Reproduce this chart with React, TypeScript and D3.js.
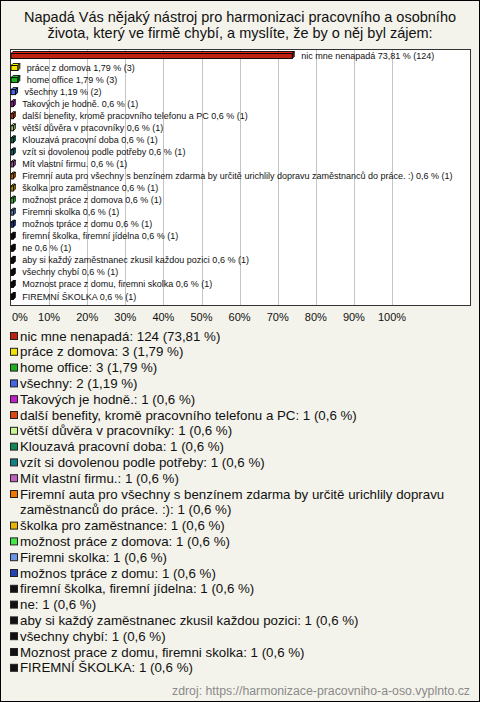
import React, { useEffect, useRef } from "react";
import * as d3 from "d3";

const categories = [
  "nic mne nenapadá",
  "práce z domova",
  "home office",
  "všechny",
  "Takových je hodně.",
  "další benefity, kromě pracovního telefonu a PC",
  "větší důvěra v pracovníky",
  "Klouzavá pracovní doba",
  "vzít si dovolenou podle potřeby",
  "Mít vlastní firmu.",
  "Firemní auta pro všechny s benzínem zdarma by určitě urichlily dopravu zaměstnanců do práce. :)",
  "školka pro zaměstnance",
  "možnost práce z domova",
  "Firemni skolka",
  "možnos tpráce z domu",
  "firemní školka, firemní jídelna",
  "ne",
  "aby si každý zaměstnanec zkusil každou pozici",
  "všechny chybí",
  "Moznost prace z domu, firemni skolka",
  "FIREMNÍ ŠKOLKA",
];
const counts = [124, 3, 3, 2, 1, 1, 1, 1, 1, 1, 1, 1, 1, 1, 1, 1, 1, 1, 1, 1, 1];
const percents = [73.81, 1.79, 1.79, 1.19, 0.6, 0.6, 0.6, 0.6, 0.6, 0.6, 0.6, 0.6, 0.6, 0.6, 0.6, 0.6, 0.6, 0.6, 0.6, 0.6, 0.6];
const colors = [
  "#c0200f", "#f2e200", "#1fb01f", "#4466e6", "#c020c8", "#e04412", "#c8f590",
  "#13875a", "#118088", "#c060c0", "#f07800", "#e8b400", "#44e844", "#6a98e8",
  "#2244b0", "#111111", "#111111", "#111111", "#111111", "#111111", "#111111",
];
const xTicks = [0, 10, 20, 30, 40, 50, 60, 70, 80, 90, 100];
const title = [
  "Napadá Vás nějaký nástroj pro harmonizaci pracovního a osobního",
  "života, který ve firmě chybí, a myslíte, že by o něj byl zájem:",
];
const source = "zdroj: https://harmonizace-pracovniho-a-oso.vyplnto.cz";

const W = 480;
const H = 702;
const FONT = "'Liberation Sans', Arial, sans-serif";

const fmt = (v: number) => String(v).replace(".", ",");

export default function App() {
  const ref = useRef<SVGSVGElement | null>(null);

  useEffect(() => {
    const svg = d3.select(ref.current);
    svg.selectAll("*").remove();

    svg.append("rect").attr("x", 0.5).attr("y", 0.5).attr("width", W - 1).attr("height", H - 1)
      .attr("fill", "#f4f3eb").attr("stroke", "#000");

    const t = svg.append("text").attr("font-family", FONT).attr("font-size", 14.5)
      .attr("text-anchor", "middle").attr("fill", "#111");
    title.forEach((line, i) =>
      t.append("tspan").attr("x", W / 2).attr("y", 22 + i * 16).text(line)
    );

    const plotL = 10.5, plotR = 470.5, plotT = 49.5, plotB = 305.5;
    const x = d3.scaleLinear().domain([0, 100]).range([11, 392]);
    const y = d3.scalePoint<string>().domain(categories).range([55.5, 296.5]);

    svg.append("rect").attr("x", plotL).attr("y", plotT).attr("width", plotR - plotL)
      .attr("height", plotB - plotT).attr("fill", "#fff").attr("stroke", "#333");

    svg.append("g").selectAll("line").data(xTicks.filter((d) => d > 0)).join("line")
      .attr("x1", (d) => Math.round(x(d)) + 0.5).attr("x2", (d) => Math.round(x(d)) + 0.5)
      .attr("y1", plotT + 0.5).attr("y2", plotB - 0.5)
      .attr("stroke", "#c4c4c4");

    svg.append("g").selectAll("text").data(xTicks).join("text")
      .attr("x", (d) => (d === 0 ? 12 : x(d)))
      .attr("y", 321)
      .attr("text-anchor", (d) => (d === 0 ? "start" : "middle"))
      .attr("font-family", FONT).attr("font-size", 11).attr("fill", "#111")
      .text((d) => d + "%");

    const bars = svg.append("g");
    categories.forEach((c, i) => {
      const cy = y(c) as number;
      const x0 = x(0);
      const w = Math.max(x(percents[i]) - x(0), 1.5);
      const col = colors[i];
      const light = d3.color(col)!.brighter(0.6).formatHex();
      const dark = d3.color(col)!.darker(0.8).formatHex();
      const g = bars.append("g");
      g.append("path")
        .attr("d", `M${x0},${cy - 2} L${x0 + 2},${cy - 4} L${x0 + w + 2},${cy - 4} L${x0 + w},${cy - 2} Z`)
        .attr("fill", light).attr("stroke", "#000").attr("stroke-width", 0.9);
      g.append("path")
        .attr("d", `M${x0 + w},${cy - 2} L${x0 + w + 2},${cy - 4} L${x0 + w + 2},${cy + 1} L${x0 + w},${cy + 3} Z`)
        .attr("fill", dark).attr("stroke", "#000").attr("stroke-width", 0.9);
      g.append("rect").attr("x", x0).attr("y", cy - 2).attr("width", w).attr("height", 5)
        .attr("fill", col).attr("stroke", "#000").attr("stroke-width", 0.9);
      g.append("text")
        .attr("x", x0 + w + 9).attr("y", cy + 3)
        .attr("font-family", FONT).attr("font-size", 9).attr("fill", "#111")
        .text(`${c} ${fmt(percents[i])} % (${counts[i]})`);
    });

    const leg = svg.append("g");
    const legX = 20, maxW = 452, step = 15.8;
    let line = 0;
    categories.forEach((c, i) => {
      const cy = 336 + line * step;
      leg.append("rect").attr("x", 10.5).attr("y", cy - 3.5).attr("width", 7).attr("height", 7)
        .attr("fill", colors[i]).attr("stroke", "#222");
      const full = `${c}: ${counts[i]} (${fmt(percents[i])} %)`;
      const txt = leg.append("text").attr("font-family", FONT).attr("font-size", 13.3)
        .attr("fill", "#111");
      const words = full.split(" ");
      let cur: string[] = [];
      let ts = txt.append("tspan").attr("x", legX).attr("y", cy + 4.5);
      words.forEach((wd) => {
        cur.push(wd);
        ts.text(cur.join(" "));
        if ((ts.node() as SVGTSpanElement).getComputedTextLength() > maxW && cur.length > 1) {
          cur.pop();
          ts.text(cur.join(" "));
          line += 1;
          cur = [wd];
          ts = txt.append("tspan").attr("x", legX).attr("y", 336 + line * step + 4.5).text(wd);
        }
      });
      line += 1;
    });

    svg.append("text").attr("x", 470).attr("y", 695).attr("text-anchor", "end")
      .attr("font-family", FONT).attr("font-size", 12.3).attr("fill", "#8a8a8a")
      .text(source);
  }, []);

  return (
    <svg ref={ref} width={W} height={H}
      style={{ position: "absolute", left: 0, top: 0, display: "block" }} />
  );
}
